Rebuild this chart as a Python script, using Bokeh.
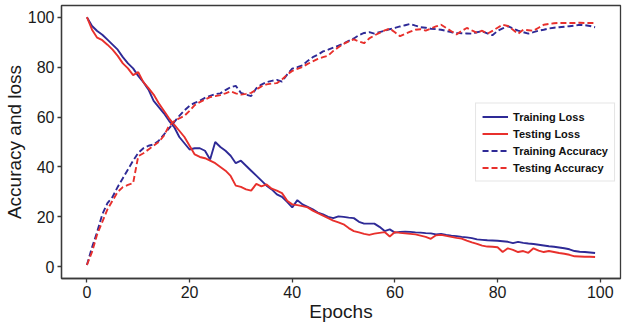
from bokeh.plotting import figure
from bokeh.models import Range1d, Legend, LegendItem, FixedTicker
from bokeh.embed import file_html
from bokeh.resources import INLINE

epochs = list(range(100))

train_loss = [100, 96.5, 94.5, 93, 91, 89, 87, 84, 81.5, 79.5,
              76.5, 74, 71, 66.5, 64, 61.5, 58.5, 56, 52, 49.5,
              47, 47.5, 47.5, 46.5, 43, 50, 48, 46.5, 44.5, 41.5,
              42.5, 40.5, 38.5, 36.5, 34.5, 32.5, 31, 29, 28, 26,
              23.8, 26.7, 25, 24, 23, 21.7, 21, 20, 19.5, 20.2,
              20, 19.7, 19.5, 18, 17.3, 17.3, 17.3, 16, 14.3, 15,
              13.7, 14, 14.1, 14, 13.8, 13.7, 13.5, 13.4, 13, 13.2,
              12.8, 12.5, 12.3, 12, 11.8, 11.5, 11, 10.8, 10.6, 10.5,
              10.4, 10.2, 10, 9.5, 10, 9.6, 9.3, 9.1, 8.8, 8.5,
              8.2, 8, 7.7, 7.4, 7, 6.3, 6, 5.9, 5.7, 5.5]

test_loss = [100, 95, 91.8, 90.8, 89, 87, 84.5, 81.5, 79.5, 76.8,
             78, 74, 71.6, 69, 65.5, 62.5, 59.5, 57, 54.5, 52,
             48.5, 45, 44, 43.5, 42.5, 41.5, 40, 38.5, 36.4, 32.5,
             32, 31, 30.5, 33.2, 32.2, 33, 31.3, 30.5, 29.5, 26.5,
             25, 24.7, 24.3, 23.8, 22.5, 21.5, 20.5, 19.5, 18.5, 17.8,
             17, 15.5, 14.3, 13.8, 13.2, 12.8, 13.3, 13.6, 13.9, 12.1,
             13.9, 13.6, 13.4, 13.2, 13, 12.5, 12, 11.2, 12.6, 12.8,
             12.4, 12, 11.6, 11.3, 10.5, 9.8, 9.2, 8.5, 8.1, 8,
             7.8, 5.9, 7.4, 6.8, 5.9, 6.3, 5.6, 7.4, 6.5, 5.9,
             6.3, 5.9, 5.5, 5.2, 4.8, 4.2, 4.1, 4, 4, 3.9]

train_acc = [0.7, 7.8, 14, 21, 25.5, 28, 32, 35.5, 39, 42.5,
             45.6, 47.5, 48.5, 49, 50.5, 53, 55.5, 58, 60.5, 62.7,
             64.5, 65.7, 66.5, 67.7, 68.5, 69.2, 69.5, 70.8, 72, 72.5,
             69.7, 69, 68.4, 71.5, 73, 74, 74.5, 74.9, 74.2, 77,
             79.4, 80, 80.7, 82.5, 84, 85, 86.3, 87, 87.8, 88.6,
             89.5, 90.5, 91.5, 92.8, 93.7, 94, 93.4, 94, 94.6, 95.2,
             95.7, 96.3, 96.8, 97.3, 96.6, 96, 95.8, 95.4, 95.2, 95,
             94.5, 94, 93.75, 93.6, 93.5, 93.4, 94, 94.4, 93.5, 92.8,
             94.5, 95.5, 96.4, 95.5, 94.6, 94, 93.4, 94, 94.6, 95,
             95.5, 95.8, 96, 96.2, 96.4, 96.6, 97, 96.8, 96.5, 96]

test_acc = [0.7, 6, 13, 18, 23, 26.5, 30, 31.9, 32.8, 33.5,
            44.3, 45.5, 47, 48.5, 50, 52.5, 56.5, 58.3, 59.5, 60.5,
            62.5, 64.8, 66, 67, 68, 68.4, 68.8, 69.5, 70.3, 69.5,
            69, 69.3, 69.7, 71, 72.3, 73.1, 73.4, 73.6, 75, 77,
            78.5, 79.3, 80.1, 81.3, 82.3, 83.3, 84, 84.6, 86.5, 88,
            89.3, 90.3, 91.1, 90.3, 89.6, 91.5, 92.7, 93.7, 94.7, 95.4,
            94, 92.4, 93.3, 94.2, 95, 95.2, 94.6, 95.5, 96.3, 97,
            95.7, 94.4, 93.1, 94.5, 95.7, 94.7, 93.75, 94.6, 93.4, 94.5,
            95.8, 97, 96.5, 95, 93.4, 95, 94.8, 94.6, 95.8, 97,
            97.3, 97.6, 97.7, 97.7, 97.7, 97.7, 97.8, 97.7, 97.7, 97.7]

ticks = [0, 20, 40, 60, 80, 100]
blue = "#2e2a96"
red = "#e8302c"

p = figure(width=622, height=324, output_backend="svg", toolbar_location=None,
           x_range=Range1d(-4.95, 103.95), y_range=Range1d(-4.7, 104.7),
           min_border_left=4, min_border_right=2, min_border_top=5, min_border_bottom=0)
p.grid.visible = False
p.outline_line_color = "#3a3a3a"
p.outline_line_width = 1.3
p.background_fill_color = "white"
p.border_fill_color = "white"

r1 = p.line(epochs, train_loss, line_color=blue, line_width=1.9)
r2 = p.line(epochs, test_loss, line_color=red, line_width=1.9)
r3 = p.line(epochs, train_acc, line_color=blue, line_width=1.9, line_dash="6 3")
r4 = p.line(epochs, test_acc, line_color=red, line_width=1.9, line_dash="6 3")

for ax in (p.xaxis[0], p.yaxis[0]):
    ax.ticker = FixedTicker(ticks=ticks)
    ax.minor_tick_line_color = None
    ax.major_tick_in = 0
    ax.major_tick_out = 4
    ax.axis_line_color = "#3a3a3a"
    ax.axis_line_width = 1.3
    ax.major_tick_line_color = "#3a3a3a"
    ax.major_tick_line_width = 1.3
    ax.major_label_text_font = "Liberation Sans"
    ax.major_label_text_font_size = "16px"
    ax.major_label_text_color = "#1a1a1a"
    ax.axis_label_text_font = "Liberation Sans"
    ax.axis_label_text_font_size = "19px"
    ax.axis_label_text_font_style = "normal"
    ax.axis_label_text_color = "#1a1a1a"
    ax.major_label_standoff = 3
    ax.axis_label_standoff = 0

p.xaxis[0].axis_label = "Epochs"
p.yaxis[0].axis_label = "Accuracy and loss"

legend = Legend(items=[
    LegendItem(label="Training Loss", renderers=[r1]),
    LegendItem(label="Testing Loss", renderers=[r2]),
    LegendItem(label="Training Accuracy", renderers=[r3]),
    LegendItem(label="Testing Accuracy", renderers=[r4]),
], location="right")
legend.label_text_font = "Liberation Sans"
legend.label_text_font_size = "11px"
legend.label_text_font_style = "bold"
legend.label_text_color = "#111111"
legend.glyph_width = 26
legend.glyph_height = 14
legend.label_height = 14
legend.spacing = 3
legend.padding = 6
legend.margin = 5
legend.border_line_color = "#cccccc"
legend.border_line_width = 1
legend.background_fill_alpha = 1.0
p.add_layout(legend)

open("out.html", "w").write(file_html(p, INLINE))
